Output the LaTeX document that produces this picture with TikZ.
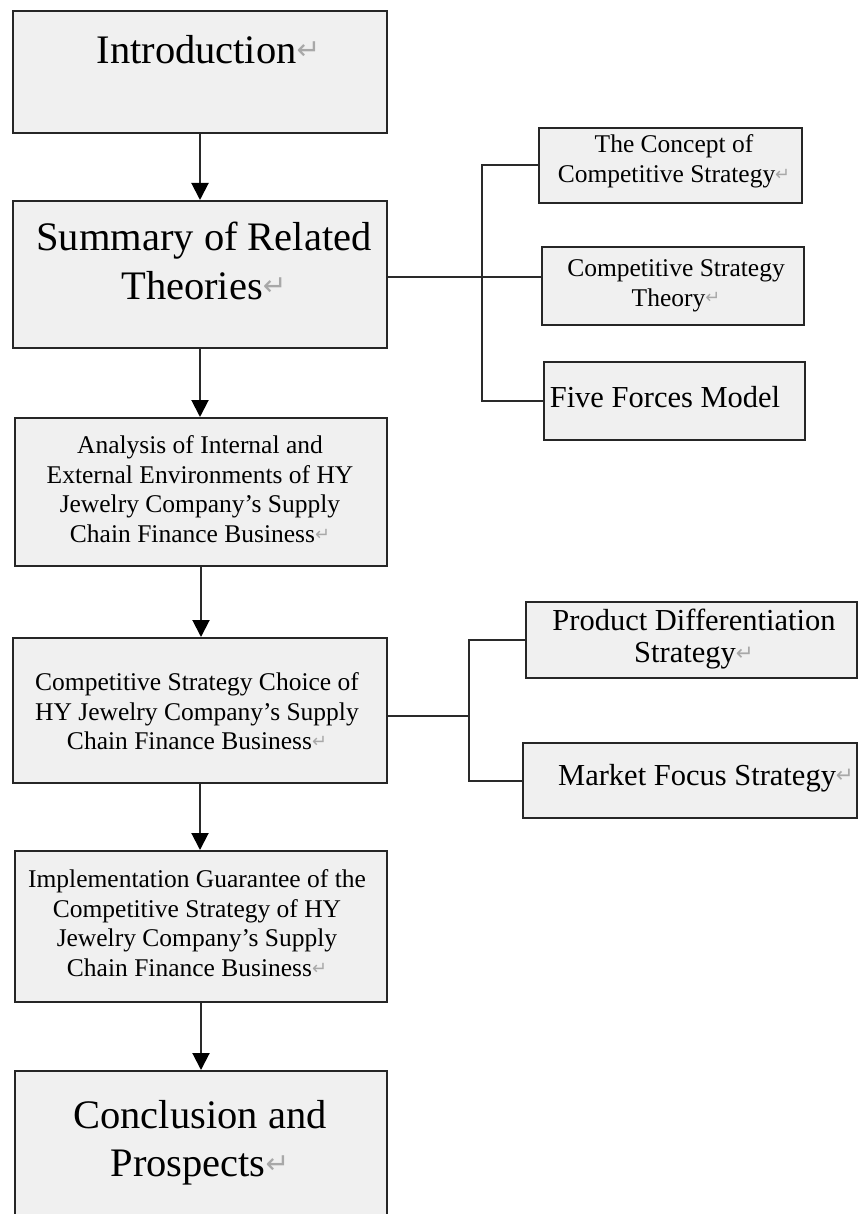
\documentclass[tikz,border=0pt]{standalone}
\usepackage{fontspec}
\setmainfont{Liberation Serif}
\newfontfamily\arrowfont{DejaVu Sans}
\usetikzlibrary{arrows.meta}
\definecolor{boxfill}{HTML}{F0F0F0}
\definecolor{boxline}{HTML}{262626}
\definecolor{linkgray}{HTML}{2A2A2A}
\definecolor{retgray}{HTML}{A8A8A8}
\newcommand\retmark{{\arrowfont\color{retgray}\raisebox{0.15ex}{\scalebox{0.7}{↵}}}}
\begin{document}
\begin{tikzpicture}[x=1pt, y=-1pt,
    box/.style={draw=boxline, fill=boxfill, line width=2pt, inner sep=0pt},
    bigtxt/.style={anchor=north, inner sep=0pt, align=center, font=\fontsize{40.5}{48.5}\selectfont},
    midtxt/.style={anchor=north, inner sep=0pt, align=center, font=\fontsize{25.5}{29.5}\selectfont},
    sidetxt/.style={anchor=north, inner sep=0pt, align=center, font=\fontsize{30.5}{32}\selectfont},
    link/.style={draw=linkgray, line width=2pt},
    arrow/.style={link, -{Triangle[width=17pt, length=17pt, color=black]}}]
    \useasboundingbox (0,0) rectangle (859,1214);
    \clip (0,0) rectangle (859,1214);
    \node[box, minimum width=374, minimum height=122] (intro) at (200,72) {};
    \node[box, minimum width=374, minimum height=147] (summary) at (200,274.5) {};
    \node[box, minimum width=372, minimum height=148] (analysis) at (201,492) {};
    \node[box, minimum width=374, minimum height=145] (choice) at (200,710.5) {};
    \node[box, minimum width=372, minimum height=151] (impl) at (201,926.5) {};
    \node[box, minimum width=372, minimum height=189] (concl) at (201,1165.5) {};
    \node[box, minimum width=263, minimum height=75] (concept) at (670.5,165.5) {};
    \node[box, minimum width=262, minimum height=78] (theory) at (673,286) {};
    \node[box, minimum width=261, minimum height=78] (five) at (674.5,401) {};
    \node[box, minimum width=331, minimum height=76] (product) at (691.5,640) {};
    \node[box, minimum width=334, minimum height=75] (market) at (690,780.5) {};
    \node[bigtxt] (introtxt) at (208.5,35) {Introduction\retmark};
    \node[bigtxt] (summarytxt) at (204,222) {Summary of Related\\Theories\retmark};
    \node[midtxt] (analysistxt) at (200,435.5) {Analysis of Internal and\\External Environments of HY\\Jewelry Company’s Supply\\Chain Finance Business\retmark};
    \node[midtxt] (choicetxt) at (197,672.5) {Competitive Strategy Choice of\\HY Jewelry Company’s Supply\\Chain Finance Business\retmark};
    \node[midtxt] (impltxt) at (197,869.5) {Implementation Guarantee of the\\Competitive Strategy of HY\\Jewelry Company’s Supply\\Chain Finance Business\retmark};
    \node[bigtxt] (concltxt) at (200,1100) {Conclusion and\\Prospects\retmark};
    \node[midtxt] (concepttxt) at (674,134.5) {The Concept of\\Competitive Strategy\retmark};
    \node[midtxt] (theorytxt) at (676,259.5) {Competitive Strategy\\Theory\retmark};
    \node[sidetxt] (fivetxt) at (665,386) {Five Forces Model};
    \node[sidetxt] (producttxt) at (694,609) {Product Differentiation\\Strategy\retmark};
    \node[sidetxt] (markettxt) at (706,764) {Market Focus Strategy\retmark};
    \foreach \a/\b in {intro/summary, summary/analysis, analysis/choice, choice/impl, impl/concl}
      \draw[arrow] (\a.south) -- (\a.south |- \b.north);
    \coordinate (fork1) at (482,277);
    \draw[link] (summary.east |- fork1) -- (fork1 -| theory.west);
    \draw[link] (concept.west) -| (fork1) |- (five.west);
    \coordinate (fork2) at (469,716);
    \draw[link] (fork2 -| choice.east) -- (fork2);
    \draw[link] (product.west) -| (fork2) |- (market.west);
  \end{tikzpicture}
\end{document}
